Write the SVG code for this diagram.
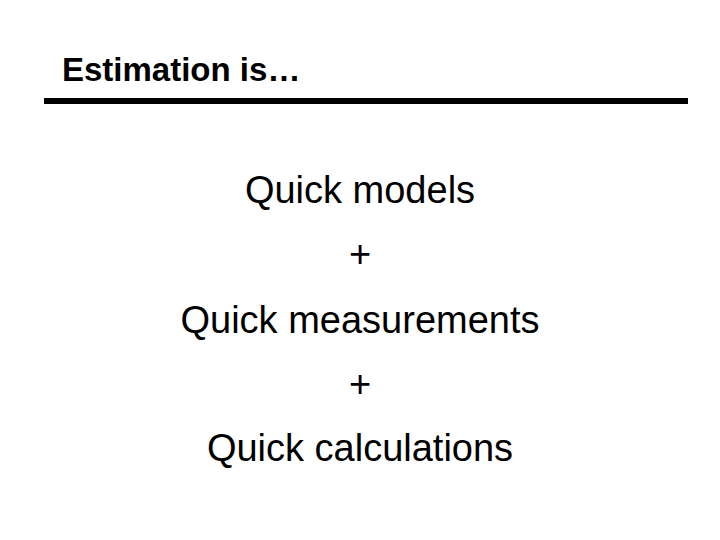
<svg xmlns="http://www.w3.org/2000/svg" width="720" height="540" viewBox="0 0 720 540">
<style>
.t{font-family:"Liberation Sans",Arial,sans-serif;fill:#000}
.b{font-size:38px;text-anchor:middle}
</style>
<rect width="720" height="540" fill="#fff"/>
<g id="title"><text class="t" x="62" y="81" font-size="33" font-weight="bold">Estimation is…</text></g>
<g id="rule"><line x1="44" y1="101" x2="688" y2="101" stroke="#000" stroke-width="6"/></g>
<g id="body">
<text class="t b" x="360" y="203">Quick models</text>
<text class="t b" x="360" y="267">+</text>
<text class="t b" x="360" y="333">Quick measurements</text>
<text class="t b" x="360" y="397">+</text>
<text class="t b" x="360" y="461">Quick calculations</text>
</g>
</svg>
